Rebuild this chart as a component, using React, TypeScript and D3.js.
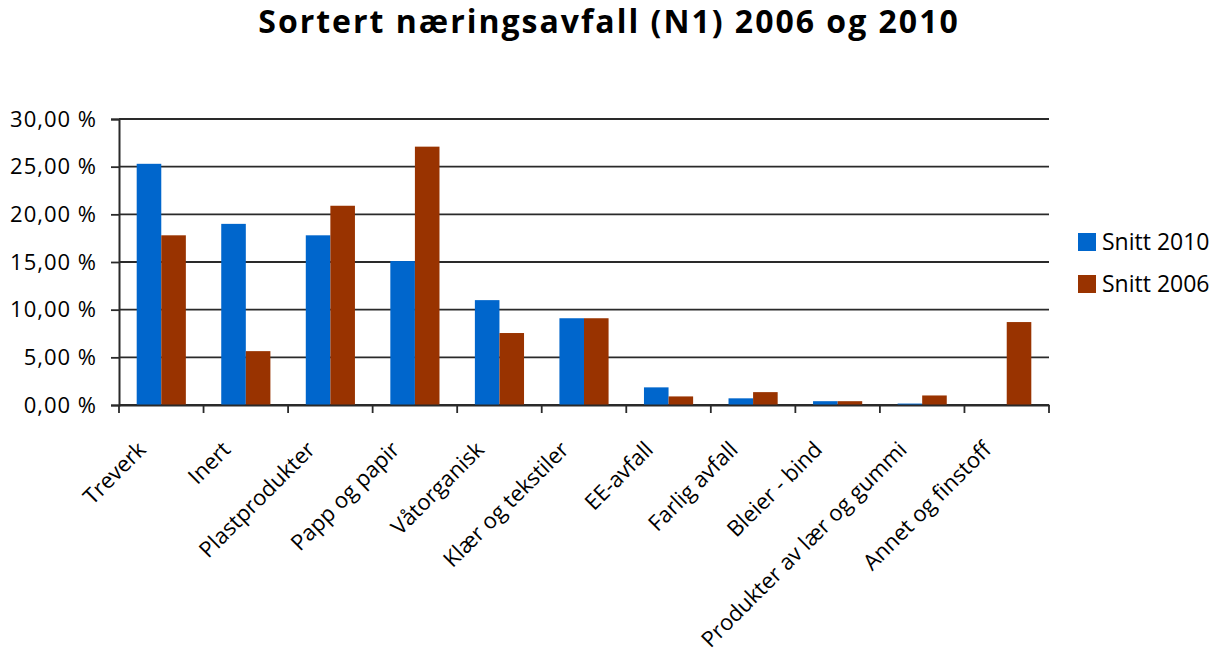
import { useEffect, useRef } from "react";
import * as d3 from "d3";

const categories = [
  "Treverk",
  "Inert",
  "Plastprodukter",
  "Papp og papir",
  "Våtorganisk",
  "Klær og tekstiler",
  "EE-avfall",
  "Farlig avfall",
  "Bleier - bind",
  "Produkter av lær og gummi",
  "Annet og finstoff",
];

const snitt2010 = [25.3, 19.0, 17.8, 15.1, 11.0, 9.1, 1.85, 0.7, 0.4, 0.15, 0];
const snitt2006 = [17.8, 5.65, 20.9, 27.1, 7.55, 9.1, 0.9, 1.35, 0.4, 1.0, 8.7];

const seriesNames = ["Snitt 2010", "Snitt 2006"];
const seriesColors = ["#0066cc", "#993300"];
const yTicks = [0, 5, 10, 15, 20, 25, 30];

const fmt = (v: number) => v.toFixed(2).replace(".", ",") + "\u00a0%";

export default function App() {
  const svgRef = useRef<SVGSVGElement>(null);

  useEffect(() => {
    const width = 1230;
    const height = 656;
    const marginLeft = 119;
    const marginRight = 181;
    const marginTop = 119;
    const marginBottom = 251;
    const font = "'Open Sans', sans-serif";

    const svg = d3.select(svgRef.current)
      .attr("width", width)
      .attr("height", height)
      .attr("viewBox", [0, 0, width, height]);
    svg.selectAll("*").remove();

    const x = d3.scaleBand()
      .domain(categories)
      .range([marginLeft, width - marginRight]);

    const xInner = d3.scaleBand()
      .domain(seriesNames)
      .range([0, x.bandwidth()])
      .paddingInner(0)
      .paddingOuter(0.72);

    const y = d3.scaleLinear()
      .domain([0, 30])
      .range([height - marginBottom, marginTop]);

    // title
    svg.append("text")
      .attr("x", 609)
      .attr("y", 33)
      .attr("text-anchor", "middle")
      .attr("font-family", font)
      .attr("font-weight", "bold")
      .attr("font-size", 32)
      .attr("letter-spacing", 2)
      .attr("fill", "#000")
      .text("Sortert næringsavfall (N1) 2006 og 2010");

    // gridlines
    svg.append("g")
      .selectAll("line")
      .data(yTicks)
      .join("line")
      .attr("x1", marginLeft)
      .attr("x2", width - marginRight)
      .attr("y1", d => y(d))
      .attr("y2", d => y(d))
      .attr("stroke", "#2a2a2a")
      .attr("stroke-width", 1.8);

    // bars
    const data = categories.map((c, i) => ({ c, vals: [snitt2010[i], snitt2006[i]] }));
    svg.append("g")
      .selectAll("g")
      .data(data)
      .join("g")
      .attr("transform", d => `translate(${x(d.c)},0)`)
      .selectAll("rect")
      .data(d => d.vals.map((v, j) => ({ v, s: seriesNames[j], col: seriesColors[j] })))
      .join("rect")
      .attr("x", d => xInner(d.s)!)
      .attr("width", xInner.bandwidth())
      .attr("y", d => y(d.v))
      .attr("height", d => y(0) - y(d.v))
      .attr("fill", d => d.col);

    // y axis
    const yAxis = svg.append("g")
      .attr("transform", `translate(${marginLeft},0)`)
      .call(d3.axisLeft(y).tickValues(yTicks).tickFormat(d => fmt(+d)).tickSize(8).tickPadding(14));
    yAxis.select(".domain").attr("stroke", "#2a2a2a").attr("stroke-width", 2);
    yAxis.selectAll(".tick line").attr("stroke", "#2a2a2a").attr("stroke-width", 1.8);
    yAxis.selectAll(".tick text")
      .attr("font-family", font)
      .attr("font-size", 22)
      .attr("letter-spacing", 1)
      .attr("fill", "#000");

    // x axis
    const xAxis = svg.append("g")
      .attr("transform", `translate(0,${height - marginBottom})`)
      .call(d3.axisBottom(x).tickSize(0).tickFormat(() => ""));
    xAxis.select(".domain").attr("stroke", "#2a2a2a").attr("stroke-width", 2);

    const edges = d3.range(categories.length + 1).map(i => marginLeft + i * x.step());
    svg.append("g")
      .selectAll("line")
      .data(edges)
      .join("line")
      .attr("x1", d => d)
      .attr("x2", d => d)
      .attr("y1", y(0))
      .attr("y2", y(0) + 8)
      .attr("stroke", "#2a2a2a")
      .attr("stroke-width", 1.8);

    svg.append("g")
      .selectAll("text")
      .data(categories)
      .join("text")
      .attr("transform", d => `translate(${x(d)! + x.bandwidth() / 2 - 14},${y(0) + 46}) rotate(-45)`)
      .attr("text-anchor", "end")
      .attr("font-family", font)
      .attr("font-size", 22)
      .attr("fill", "#000")
      .text(d => d);

    // legend
    const legend = svg.append("g")
      .selectAll("g")
      .data(seriesNames)
      .join("g")
      .attr("transform", (d, i) => `translate(1078,${233 + i * 42})`);
    legend.append("rect")
      .attr("width", 18)
      .attr("height", 18)
      .attr("fill", (d, i) => seriesColors[i]);
    legend.append("text")
      .attr("x", 24)
      .attr("y", 17)
      .attr("font-family", font)
      .attr("font-size", 23)
      .attr("fill", "#000")
      .text(d => d);
  }, []);

  return (
    <div style={{ position: "absolute", left: 0, top: 0 }}>
      <svg ref={svgRef}></svg>
    </div>
  );
}
